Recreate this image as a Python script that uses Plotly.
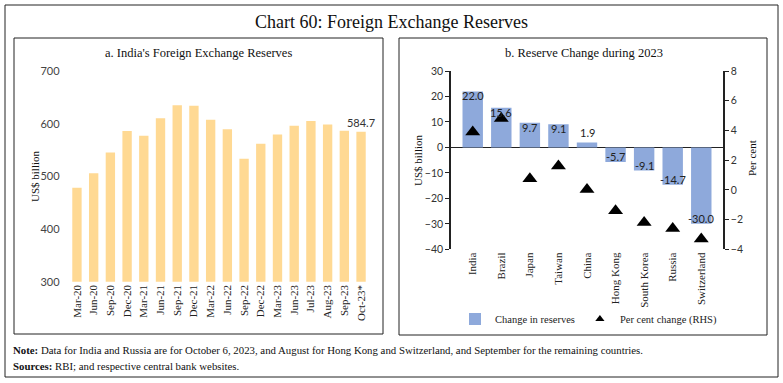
import plotly.graph_objects as go

# ---- data ----
periods = ["Mar-20", "Jun-20", "Sep-20", "Dec-20", "Mar-21", "Jun-21", "Sep-21", "Dec-21",
           "Mar-22", "Jun-22", "Sep-22", "Dec-22", "Mar-23", "Jun-23", "Jul-23", "Aug-23",
           "Sep-23", "Oct-23*"]
reserves = [478.5, 506.0, 545.5, 586.0, 577.0, 610.5, 635.0, 634.0,
            607.5, 589.5, 533.5, 562.0, 579.5, 596.0, 605.0, 598.5,
            586.5, 584.7]

countries = ["India", "Brazil", "Japan", "Taiwan", "China", "Hong Kong",
             "South Korea", "Russia", "Switzerland"]
change_bn = [22.0, 15.6, 9.7, 9.1, 1.9, -5.7, -9.1, -14.7, -30.0]
change_pct = [3.9, 4.8, 0.75, 1.6, 0.03, -1.4, -2.2, -2.6, -3.3]

W, H = 783, 383
def px(x): return x / W
def py(y): return 1 - y / H

SERIF = "Liberation Serif"
SANS = "Lato"
BAR_B = "#8EA9DB"

fig = go.Figure()

# ---- panel a ----
fig.add_trace(go.Bar(
    x=periods, y=reserves, xaxis="x", yaxis="y",
    marker=dict(color="#FFD993", line=dict(width=0)),
    text=[""] * (len(reserves) - 1) + [f"{reserves[-1]:.1f}"],
    textposition="outside", cliponaxis=False, constraintext="none",
    textfont=dict(family=SANS, size=11, color="#333333"),
    showlegend=False, hoverinfo="skip",
))

# ---- panel b ----
fig.add_trace(go.Bar(
    x=countries, y=change_bn, xaxis="x2", yaxis="y2",
    name="Change in reserves", width=0.715,
    marker=dict(color=BAR_B, line=dict(width=0)),
    showlegend=True, legendrank=1,
))
fig.add_trace(go.Scatter(
    x=countries, y=change_pct, xaxis="x2", yaxis="y3",
    mode="markers", name="Per cent change (RHS)",
    marker=dict(symbol="triangle-up", size=13, color="black"),
    showlegend=False, cliponaxis=False,
))
# legend entry (small triangle like the reference)
fig.add_trace(go.Scatter(
    x=[None], y=[None], xaxis="x2", yaxis="y3",
    mode="markers", name="Per cent change (RHS)",
    marker=dict(symbol="triangle-up", size=8, color="black"),
    showlegend=True, legendrank=2,
))

annotations = []
for c, v in zip(countries, change_bn):
    if abs(v) < 3:
        annotations.append(dict(x=c, y=v, xref="x2", yref="y2", text=f"{v:.1f}",
                                showarrow=False, xanchor="center",
                                yanchor="bottom" if v > 0 else "top",
                                yshift=2 if v > 0 else -2,
                                font=dict(family=SANS, size=11, color="#222")))
    else:
        annotations.append(dict(x=c, y=v, xref="x2", yref="y2", text=f"{v:.1f}",
                                showarrow=False, xanchor="center",
                                yanchor="top" if v > 0 else "bottom",
                                yshift=4 if v > 0 else -3,
                                font=dict(family=SANS, size=11, color="#222")))

def txt(x, y, s, size, angle=0, xanchor="center", family=SERIF):
    return dict(x=px(x), y=py(y), xref="paper", yref="paper", text=s, textangle=angle,
                showarrow=False, xanchor=xanchor, yanchor="middle",
                font=dict(family=family, size=size, color="#111"))

annotations += [
    txt(391, 22, "Chart 60: Foreign Exchange Reserves", 18),
    txt(198, 53, "a. India's Foreign Exchange Reserves", 12.5),
    txt(584, 53, "b. Reserve Change during 2023", 12.5),
    txt(35, 176, "US$ billion", 11, -90),
    txt(418, 160, "US$ billion", 11, -90),
    txt(752, 158, "Per cent", 11, -90),
    txt(11, 350, "<b>Note:</b> Data for India and Russia are for October 6, 2023, and August for Hong Kong and Switzerland, and September for the remaining countries.", 10.8, 0, "left"),
    txt(11, 366, "<b>Sources:</b> RBI; and respective central bank websites.", 10.8, 0, "left"),
]

shapes = [
    dict(type="rect", xref="paper", yref="paper", x0=px(5), x1=px(778), y0=py(5), y1=py(377),
         line=dict(color="#222", width=1)),
    dict(type="rect", xref="paper", yref="paper", x0=px(14), x1=px(383), y0=py(38), y1=py(334),
         line=dict(color="#222", width=1)),
    dict(type="rect", xref="paper", yref="paper", x0=px(399), x1=px(767), y0=py(38), y1=py(335),
         line=dict(color="#222", width=1)),
]

fig.update_layout(
    width=W, height=H, margin=dict(l=0, r=0, t=0, b=0, pad=0, autoexpand=False),
    paper_bgcolor="white", plot_bgcolor="white",
    bargap=0.44,
    annotations=annotations, shapes=shapes,
    xaxis=dict(domain=[px(68.6), px(369.4)], anchor="y", tickangle=-90, automargin=False,
               tickfont=dict(family=SERIF, size=11, color="#222"),
               showline=False, ticks="", showgrid=False),
    yaxis=dict(domain=[py(281.7), py(71)], anchor="x", range=[300, 700], dtick=100,
               automargin=False,
               showgrid=False, zeroline=False, showline=False, ticks="",
               ticklabelstandoff=8,
               tickfont=dict(family=SANS, size=11, color="#444")),
    xaxis2=dict(domain=[px(451), px(723)], anchor="y2", tickangle=-90, automargin=False,
                tickfont=dict(family=SERIF, size=11, color="#222"),
                showline=False, ticks="", showgrid=False),
    yaxis2=dict(domain=[py(249.3), py(71)], anchor="x2", range=[-40, 30], dtick=10,
                automargin=False,
                showgrid=False, zeroline=True, zerolinecolor="#222", zerolinewidth=1,
                showline=True, linecolor="#222", linewidth=1.5,
                ticks="outside", ticklen=4, tickcolor="#222",
                tickfont=dict(family=SANS, size=10.5, color="#333")),
    yaxis3=dict(domain=[py(249.3), py(71)], anchor="x2", overlaying="y2", side="right",
                automargin=False,
                range=[-4, 8], dtick=2, showgrid=False, zeroline=False,
                showline=True, linecolor="#222", linewidth=1.5,
                ticks="outside", ticklen=4, tickcolor="#222",
                tickfont=dict(family=SANS, size=10.5, color="#333")),
    legend=dict(orientation="h", x=px(455), y=py(319), xanchor="left", yanchor="middle",
                font=dict(family=SERIF, size=10.5, color="#222"),
                itemwidth=30, tracegroupgap=0, bgcolor="rgba(0,0,0,0)"),
)

fig.write_html("out.html", config={"displayModeBar": False},
               post_script="document.body.style.margin='0px';document.body.style.overflow='hidden';")
